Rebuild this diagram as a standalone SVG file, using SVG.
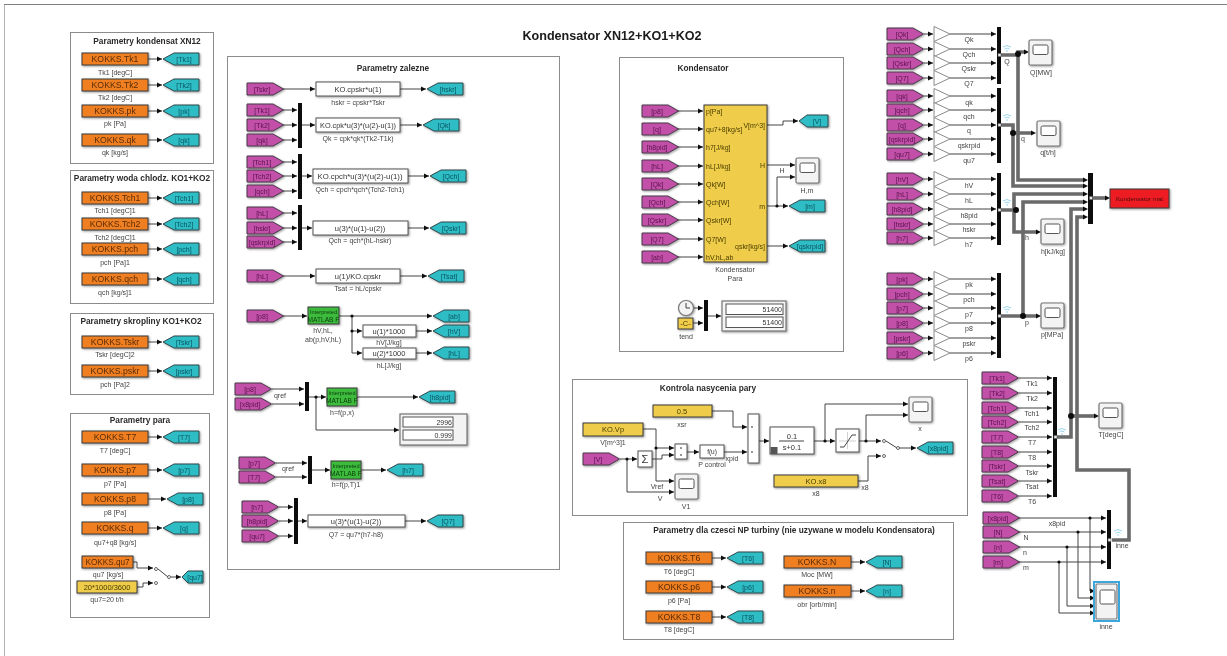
<svg xmlns="http://www.w3.org/2000/svg" xmlns:xlink="http://www.w3.org/1999/xlink" width="1227" height="656" viewBox="0 0 1227 656">
<style>
text{font-family:"Liberation Sans",Arial,sans-serif;font-size:7px;fill:#444;text-anchor:middle;dominant-baseline:central}
.title{font-size:12.6px;font-weight:bold;fill:#1a1a1a}
.pt{font-size:8.3px;font-weight:bold;fill:#2a2a2a}
.o{font-size:8.7px;fill:#5a2c05}
.f{font-size:7.5px;fill:#333}
.m{fill:#5c1450;font-size:7px}
.g{fill:#0a5560;font-size:7px}
.y{fill:#4a3d00;font-size:7.5px}
.gr{font-size:5.6px;fill:#0c3d0c}
.lft{text-anchor:start;fill:#4a3d00}
.rgt{text-anchor:end;fill:#4a3d00}
.panel{fill:#fff;stroke:#8c8c8c;stroke-width:1}
.l{fill:none;stroke:#444;stroke-width:1;marker-end:url(#a)}
.n{fill:none;stroke:#444;stroke-width:1}
.b{fill:none;stroke:#6a6a6a;stroke-width:3.6;marker-end:url(#a2)}
.bn{fill:none;stroke:#6a6a6a;stroke-width:3.6}
.d{fill:#111}
.shad{filter:drop-shadow(1px 1px .8px rgba(0,0,0,.4))}
.org{fill:#f07f22;stroke:#3a3a3a;stroke-width:1}
.yel{fill:#efcd4b;stroke:#3a3a3a;stroke-width:1}
.wh{fill:#fff;stroke:#555;stroke-width:1}
.grn{fill:#3dbb3d;stroke:#3a3a3a;stroke-width:1}
.mux{fill:#0c0c0c}
.from{fill:#c24fa8;stroke:#4a3a4a;stroke-width:1}
.goto{fill:#2fbcc5;stroke:#2f4a4d;stroke-width:1}
.gain{fill:#fff;stroke:#8a8a8a;stroke-width:1}
.sc{fill:#f3f3f3;stroke:#777;stroke-width:1.2}
.scr{fill:#fff;stroke:#555;stroke-width:1}
.c{fill:#fff;stroke:#444;stroke-width:.8}
.wifi{fill:none;stroke:#8fd0ee;stroke-width:.9}
.port{fill:#e8e8e8;stroke:#555;stroke-width:.5}
</style>
<defs>
<filter id="soft" x="0" y="0" width="100%" height="100%"><feGaussianBlur stdDeviation=".4"/></filter>
<marker id="a" markerUnits="userSpaceOnUse" markerWidth="6" markerHeight="6" refX="5" refY="3" orient="auto"><path d="M0 .4L5 3 0 5.6Z" fill="#111"/></marker>
<marker id="a2" markerUnits="userSpaceOnUse" markerWidth="6" markerHeight="6" refX="0" refY="3" orient="auto"><path d="M0 .4L5 3 0 5.6Z" fill="#111"/></marker>
<path id="from" class="from shad" d="M0-6H26L36.500 0 26 6H0Z"/>
<path id="goto" class="goto shad" d="M0 0L11-6H36V6H11Z"/>
<path id="gain" class="gain" d="M0-7.500L16 0 0 7.500Z"/>
<g id="scope" class="shad"><rect class="sc" width="23" height="25" rx="1.500"/><rect class="scr" x="4" y="5" width="15" height="9.500" rx="1.500"/></g>
<rect id="ob" class="org shad" width="66" height="12"/>
<path id="wi" class="wifi" d="M-4 0Q0-3 4 0M-2.500 2Q0 0 2.500 2M-1 4H1"/>
</defs>
<rect width="1227" height="656" fill="#fff"/>
<g id="diagram" filter="url(#soft)">
<path d="M4 656V4.500H1227" fill="none" stroke="#808080" stroke-width="1.200"/>
<text class="title" x="612" y="36">Kondensator XN12+KO1+KO2</text>

<g id="panels">
<rect class="panel" x="70.500" y="32.500" width="143" height="131"/>
<rect class="panel" x="70.500" y="170.500" width="143" height="133"/>
<rect class="panel" x="70.500" y="313.500" width="143" height="81"/>
<rect class="panel" x="70.500" y="413.500" width="139" height="204"/>
<rect class="panel" x="227.500" y="56.500" width="332" height="513"/>
<rect class="panel" x="619.500" y="57.500" width="224" height="294"/>
<rect class="panel" x="572.500" y="379.500" width="395" height="136"/>
<rect class="panel" x="623.500" y="522.500" width="330" height="117"/>
<text class="pt" x="147" y="41">Parametry kondensat XN12</text>
<text class="pt" x="142" y="178">Parametry woda chlodz. KO1+KO2</text>
<text class="pt" x="141" y="321">Parametry skropliny KO1+KO2</text>
<text class="pt" x="140" y="420">Parametry para</text>
<text class="pt" x="393" y="68">Parametry zalezne</text>
<text class="pt" x="703" y="68">Kondensator</text>
<text class="pt" x="708" y="388">Kontrola nasycenia pary</text>
<text class="pt" x="794" y="530">Parametry dla czesci NP turbiny (nie uzywane w modelu Kondensatora)</text>
</g>

<g id="connectors">
<g class="l">
<path d="M148 59H162"/><path d="M148 85H162"/><path d="M148 111H162"/><path d="M148 140H162"/><path d="M148 198H162"/><path d="M148 224H162"/><path d="M148 249H162"/><path d="M148 279H162"/><path d="M148 342H162"/><path d="M148 371H162"/><path d="M148 437H162"/><path d="M148 470H162"/><path d="M148 499H166"/><path d="M148 528H162"/>
<path d="M133 562H137V568H153"/><path d="M137 587H143V583H153"/><path d="M171 577H181"/>
<path d="M283 89H315"/><path d="M400 89H426"/><path d="M283 110H297"/><path d="M283 125H297"/><path d="M283 140H297"/><path d="M302 125H315"/><path d="M400 125H422"/><path d="M283 162H297"/><path d="M283 176H297"/><path d="M283 191H297"/><path d="M302 176H312"/><path d="M408 176H429"/><path d="M283 213H297"/><path d="M283 228H297"/><path d="M283 242H297"/><path d="M302 228H312"/><path d="M408 228H429"/><path d="M283 276H315"/><path d="M400 276H427"/><path d="M283 316H307"/><path d="M339 316H432"/><path d="M352 316V353H362"/><path d="M352 331H362"/><path d="M416 331H432"/><path d="M416 353H432"/>
<path d="M272 389H304"/><path d="M272 404H304"/><path d="M309 397H326"/><path d="M357 397H418"/><path d="M316 397V430H399"/><path d="M276 463H307"/><path d="M276 477H307"/><path d="M312 470H330"/><path d="M361 470H386"/><path d="M279 507H293"/><path d="M279 521H293"/><path d="M279 536H293"/><path d="M298 521H307"/><path d="M405 521H426"/>
<path d="M678 111H703"/><path d="M678 129H703"/><path d="M678 147H703"/><path d="M678 166H703"/><path d="M678 184H703"/><path d="M678 202H703"/><path d="M678 220H703"/><path d="M678 239H703"/><path d="M678 257H703"/><path d="M767 125H783V121H798"/><path d="M767 165H795"/><path d="M767 206H788"/><path d="M777 206V177H795"/><path d="M767 246H788"/><path d="M693 308H703"/><path d="M693 323H703"/><path d="M708 316H721"/>
<path d="M712 411H733V427H747"/><path d="M643 429H656V481H674"/><path d="M656 448H674"/><path d="M652 459H662V455H674"/><path d="M620 459H637"/><path d="M627 459V492H674"/><path d="M687 452H699"/><path d="M724 452H747"/><path d="M759 441H769"/><path d="M814 441H835"/><path d="M825 441V404H908"/><path d="M859 441H881"/><path d="M866 441V415H908"/><path d="M899 448H916"/><path d="M858 481H868V456H881"/>
<path d="M712 558H726"/><path d="M712 587H726"/><path d="M712 617H726"/><path d="M851 562H865"/><path d="M851 591H865"/>
<path d="M924 34H933"/><path d="M924 49H933"/><path d="M924 63H933"/><path d="M924 78H933"/><path d="M924 96H933"/><path d="M924 110H933"/><path d="M924 125H933"/><path d="M924 139H933"/><path d="M924 154H933"/><path d="M924 179H933"/><path d="M924 194H933"/><path d="M924 209H933"/><path d="M924 224H933"/><path d="M924 238H933"/><path d="M924 279H933"/><path d="M924 294H933"/><path d="M924 308H933"/><path d="M924 323H933"/><path d="M924 338H933"/><path d="M924 353H933"/>
<path d="M950 34H996"/><path d="M950 49H996"/><path d="M950 63H996"/><path d="M950 78H996"/><path d="M950 96H996"/><path d="M950 110H996"/><path d="M950 125H996"/><path d="M950 139H996"/><path d="M950 154H996"/><path d="M950 179H996"/><path d="M950 194H996"/><path d="M950 209H996"/><path d="M950 224H996"/><path d="M950 238H996"/><path d="M950 279H996"/><path d="M950 294H996"/><path d="M950 308H996"/><path d="M950 323H996"/><path d="M950 338H996"/><path d="M950 353H996"/>
<path d="M1019 378H1052"/><path d="M1019 393H1052"/><path d="M1019 408H1052"/><path d="M1019 422H1052"/><path d="M1019 437H1052"/><path d="M1019 452H1052"/><path d="M1019 466H1052"/><path d="M1019 481H1052"/><path d="M1019 496H1052"/>
<path d="M1019 518H1106"/><path d="M1019 532H1106"/><path d="M1019 547H1106"/><path d="M1019 562H1106"/><path d="M1090 518V591H1095"/><path d="M1078 532V598H1095"/><path d="M1067 547V606H1095"/><path d="M1059 562V613H1095"/>
</g>
<path class="n" d="M158 569L168 577"/>
<path class="n" d="M886 441L897 448"/>
<path class="bn" d="M1018 54V180H1082"/>
<path class="bn" d="M1013 133V186H1082"/>
<path class="bn" d="M1014 210V194H1082"/>
<path class="bn" d="M1023 316V202H1082"/>
<path class="bn" d="M1057 437H1071V209H1082"/>
<path class="bn" d="M1112 540H1129V470H1077V217H1082"/>
<g class="b">
<path d="M1001 55H1018V52H1024"/><path d="M1001 125H1013V133H1031"/><path d="M1001 210H1014V232H1036"/><path d="M1001 316H1036"/><path d="M1071 416H1094"/><path d="M1093 198H1105"/>
<path d="M1082 180H1083"/><path d="M1082 186H1083"/><path d="M1082 194H1083"/><path d="M1082 202H1083"/><path d="M1082 209H1083"/><path d="M1082 217H1083"/>
</g>
<g class="d"><circle cx="352" cy="316" r="1.600"/><circle cx="352" cy="331" r="1.600"/><circle cx="316" cy="397" r="1.600"/><circle cx="777" cy="206" r="1.600"/><circle cx="656" cy="448" r="1.600"/><circle cx="627" cy="459" r="1.600"/><circle cx="825" cy="441" r="1.600"/><circle cx="866" cy="441" r="1.600"/><circle cx="1090" cy="518" r="1.600"/><circle cx="1078" cy="532" r="1.600"/><circle cx="1067" cy="547" r="1.600"/><circle cx="1059" cy="562" r="1.600"/><circle cx="1018" cy="54" r="3"/><circle cx="1013" cy="133" r="3"/><circle cx="1016" cy="210" r="3"/><circle cx="1023" cy="316" r="3"/><circle cx="1071" cy="416" r="3"/></g>
<g class="c"><circle cx="156" cy="569" r="1.500"/><circle cx="156" cy="583" r="1.500"/><circle cx="169" cy="577" r="1.500"/><circle cx="884" cy="441" r="1.500"/><circle cx="884" cy="456" r="1.500"/><circle cx="898" cy="448" r="1.500"/></g>
</g>

<g id="signal-labels">
<text x="280" y="395">qref</text><text x="288" y="468">qref</text>
<text x="782" y="170">H</text>
<text x="657" y="486">Vref</text><text x="660" y="498">V</text><text x="732" y="458">xpid</text><text x="865" y="487">x8</text>
<text x="969" y="39">Qk</text><text x="969" y="54">Qch</text><text x="969" y="68">Qskr</text><text x="969" y="83">Q7</text>
<text x="969" y="102">qk</text><text x="969" y="116">qch</text><text x="969" y="130">q</text><text x="969" y="145">qskrpid</text><text x="969" y="160">qu7</text>
<text x="969" y="185">hV</text><text x="969" y="200">hL</text><text x="969" y="215">h8pid</text><text x="969" y="229">hskr</text><text x="969" y="244">h7</text>
<text x="969" y="284">pk</text><text x="969" y="299">pch</text><text x="969" y="314">p7</text><text x="969" y="328">p8</text><text x="969" y="343">pskr</text><text x="969" y="358">p6</text>
<text x="1032" y="383">Tk1</text><text x="1032" y="398">Tk2</text><text x="1032" y="413">Tch1</text><text x="1032" y="427">Tch2</text><text x="1032" y="442">T7</text><text x="1032" y="457">T8</text><text x="1032" y="472">Tskr</text><text x="1032" y="486">Tsat</text><text x="1032" y="501">T6</text>
<text x="1057" y="523">x8pid</text><text x="1026" y="537">N</text><text x="1025" y="552">n</text><text x="1026" y="567">m</text>
<text x="1007" y="61">Q</text><text x="1023" y="138">q</text><text x="1027" y="237">h</text><text x="1027" y="322">p</text><text x="1122" y="545">inne</text>
</g>
<g id="log-icons"><use href="#wi" x="1007" y="47"/><use href="#wi" x="1007" y="116"/><use href="#wi" x="1007" y="201"/><use href="#wi" x="1007" y="308"/><use href="#wi" x="1062" y="430"/><use href="#wi" x="1118" y="531"/></g>

<g id="left-blocks">
<g id="KOKKS-Tk1"><use href="#ob" x="82" y="53"/><text class="o" x="115" y="59">KOKKS.Tk1</text><text x="115" y="72">Tk1 [degC]</text></g>
<g id="goto-Tk1"><use href="#goto" x="163" y="59"/><text class="g" x="184" y="59">[Tk1]</text></g>
<g id="KOKKS-Tk2"><use href="#ob" x="82" y="79"/><text class="o" x="115" y="85">KOKKS.Tk2</text><text x="115" y="97">Tk2 [degC]</text></g>
<g id="goto-Tk2"><use href="#goto" x="163" y="85"/><text class="g" x="184" y="85">[Tk2]</text></g>
<g id="KOKKS-pk"><use href="#ob" x="82" y="105"/><text class="o" x="115" y="111">KOKKS.pk</text><text x="115" y="123">pk [Pa]</text></g>
<g id="goto-pk"><use href="#goto" x="163" y="111"/><text class="g" x="184" y="111">[pk]</text></g>
<g id="KOKKS-qk"><use href="#ob" x="82" y="134"/><text class="o" x="115" y="140">KOKKS.qk</text><text x="115" y="152">qk [kg/s]</text></g>
<g id="goto-qk"><use href="#goto" x="163" y="140"/><text class="g" x="184" y="140">[qk]</text></g>
<g id="KOKKS-Tch1"><use href="#ob" x="82" y="192"/><text class="o" x="115" y="198">KOKKS.Tch1</text><text x="115" y="210">Tch1 [degC]1</text></g>
<g id="goto-Tch1"><use href="#goto" x="163" y="198"/><text class="g" x="184" y="198">[Tch1]</text></g>
<g id="KOKKS-Tch2"><use href="#ob" x="82" y="218"/><text class="o" x="115" y="224">KOKKS.Tch2</text><text x="115" y="237">Tch2 [degC]1</text></g>
<g id="goto-Tch2"><use href="#goto" x="163" y="224"/><text class="g" x="184" y="224">[Tch2]</text></g>
<g id="KOKKS-pch"><use href="#ob" x="82" y="243"/><text class="o" x="115" y="249">KOKKS.pch</text><text x="115" y="262">pch [Pa]1</text></g>
<g id="goto-pch"><use href="#goto" x="163" y="249"/><text class="g" x="184" y="249">[pch]</text></g>
<g id="KOKKS-qch"><use href="#ob" x="82" y="273"/><text class="o" x="115" y="279">KOKKS.qch</text><text x="115" y="292">qch [kg/s]1</text></g>
<g id="goto-qch"><use href="#goto" x="163" y="279"/><text class="g" x="184" y="279">[qch]</text></g>
<g id="KOKKS-Tskr"><use href="#ob" x="82" y="336"/><text class="o" x="115" y="342">KOKKS.Tskr</text><text x="115" y="354">Tskr [degC]2</text></g>
<g id="goto-Tskr"><use href="#goto" x="163" y="342"/><text class="g" x="184" y="342">[Tskr]</text></g>
<g id="KOKKS-pskr"><use href="#ob" x="82" y="365"/><text class="o" x="115" y="371">KOKKS.pskr</text><text x="115" y="384">pch [Pa]2</text></g>
<g id="goto-pskr"><use href="#goto" x="163" y="371"/><text class="g" x="184" y="371">[pskr]</text></g>
<g id="KOKKS-T7"><use href="#ob" x="82" y="431"/><text class="o" x="115" y="437">KOKKS.T7</text><text x="115" y="450">T7 [degC]</text></g>
<g id="goto-T7"><use href="#goto" x="163" y="437"/><text class="g" x="184" y="437">[T7]</text></g>
<g id="KOKKS-p7"><use href="#ob" x="82" y="464"/><text class="o" x="115" y="470">KOKKS.p7</text><text x="115" y="483">p7 [Pa]</text></g>
<g id="goto-p7"><use href="#goto" x="163" y="470"/><text class="g" x="184" y="470">[p7]</text></g>
<g id="KOKKS-p8"><use href="#ob" x="82" y="493"/><text class="o" x="115" y="499">KOKKS.p8</text><text x="115" y="512">p8 [Pa]</text></g>
<g id="goto-p8"><use href="#goto" x="167" y="499"/><text class="g" x="188" y="499">[p8]</text></g>
<g id="KOKKS-q"><use href="#ob" x="82" y="522"/><text class="o" x="115" y="528">KOKKS.q</text><text x="115" y="542">qu7+q8 [kg/s]</text></g>
<g id="goto-q"><use href="#goto" x="163" y="528"/><text class="g" x="184" y="528">[q]</text></g>
<g id="KOKKS-qu7"><rect class="org shad" x="82" y="556" width="51" height="12"/><text class="o" style="font-size:8.200px" x="107.500" y="562">KOKKS.qu7</text><text x="108" y="574">qu7 [kg/s]</text></g>
<g id="const-qu7"><rect class="yel shad" x="77" y="581" width="60" height="12"/><text class="y" x="107" y="587">20*1000/3600</text><text x="107" y="599">qu7=20 t/h</text></g>
<g id="goto-qu7"><path class="goto shad" d="M182 577L188 571H203V583H188Z"/><text class="g" x="195" y="577">[qu7]</text></g>
</g>

<g id="zalezne-blocks">
<g id="from-Tskr"><use href="#from" x="247" y="89"/><text class="m" x="262" y="89">[Tskr]</text></g>
<g id="fcn-hskr"><rect class="wh shad" x="316" y="82" width="84" height="14"/><text class="f" x="358" y="89">KO.cpskr*u(1)</text><text x="358" y="102">hskr = cpskr*Tskr</text></g>
<g id="goto-hskr"><use href="#goto" x="427" y="89"/><text class="g" x="448" y="89">[hskr]</text></g>
<g id="from-Tk1"><use href="#from" x="247" y="110"/><text class="m" x="262" y="110">[Tk1]</text></g>
<g id="from-Tk2"><use href="#from" x="247" y="125"/><text class="m" x="262" y="125">[Tk2]</text></g>
<g id="from-qk"><use href="#from" x="247" y="140"/><text class="m" x="262" y="140">[qk]</text></g>
<rect id="mux-Qk" class="mux" x="298" y="103" width="4" height="45"/>
<g id="fcn-Qk"><rect class="wh shad" x="316" y="118" width="84" height="14"/><text class="f" x="358" y="125" textLength="76" lengthAdjust="spacingAndGlyphs">KO.cpk*u(3)*(u(2)-u(1))</text><text x="358" y="138">Qk = cpk*qk*(Tk2-T1k)</text></g>
<g id="goto-Qk"><use href="#goto" x="423" y="125"/><text class="g" x="444" y="125">[Qk]</text></g>
<g id="from-Tch1"><use href="#from" x="247" y="162"/><text class="m" x="262" y="162">[Tch1]</text></g>
<g id="from-Tch2"><use href="#from" x="247" y="176"/><text class="m" x="262" y="176">[Tch2]</text></g>
<g id="from-qch"><use href="#from" x="247" y="191"/><text class="m" x="262" y="191">[qch]</text></g>
<rect id="mux-Qch" class="mux" x="298" y="154" width="4" height="45"/>
<g id="fcn-Qch"><rect class="wh shad" x="313" y="169" width="95" height="14"/><text class="f" x="360" y="176" textLength="85" lengthAdjust="spacingAndGlyphs">KO.cpch*u(3)*(u(2)-u(1))</text><text x="360" y="189">Qch = cpch*qch*(Tch2-Tch1)</text></g>
<g id="goto-Qch"><use href="#goto" x="430" y="176"/><text class="g" x="451" y="176">[Qch]</text></g>
<g id="from-hL"><use href="#from" x="247" y="213"/><text class="m" x="262" y="213">[hL]</text></g>
<g id="from-hskr"><use href="#from" x="247" y="228"/><text class="m" x="262" y="228">[hskr]</text></g>
<g id="from-qskrpid"><use href="#from" x="247" y="242"/><text class="m" x="262" y="242">[qskrpid]</text></g>
<rect id="mux-Qskr" class="mux" x="298" y="205" width="4" height="45"/>
<g id="fcn-Qskr"><rect class="wh shad" x="313" y="221" width="95" height="14"/><text class="f" x="360" y="228">u(3)*(u(1)-u(2))</text><text x="360" y="240">Qch = qch*(hL-hskr)</text></g>
<g id="goto-Qskr"><use href="#goto" x="430" y="228"/><text class="g" x="451" y="228">[Qskr]</text></g>
<g id="from-hL2"><use href="#from" x="247" y="276"/><text class="m" x="262" y="276">[hL]</text></g>
<g id="fcn-Tsat"><rect class="wh shad" x="316" y="269" width="84" height="14"/><text class="f" x="358" y="276">u(1)/KO.cpskr</text><text x="358" y="288">Tsat = hL/cpskr</text></g>
<g id="goto-Tsat"><use href="#goto" x="428" y="276"/><text class="g" x="449" y="276">[Tsat]</text></g>
<g id="from-p8"><use href="#from" x="247" y="316"/><text class="m" x="262" y="316">[p8]</text></g>
<g id="matlab-hV"><rect class="grn shad" x="308" y="307" width="31" height="17"/><text class="gr" x="323.500" y="312">Interpreted</text><text class="gr" style="font-size:6.600px" x="323.500" y="319">MATLAB F</text><text x="323" y="330">hV,hL,</text><text x="323" y="339">ab(p,hV,hL)</text></g>
<g id="goto-ab"><use href="#goto" x="433" y="316"/><text class="g" x="454" y="316">[ab]</text></g>
<g id="fcn-hV"><rect class="wh shad" x="363" y="325" width="53" height="12"/><text class="f" x="389" y="331">u(1)*1000</text><text x="389" y="342">hV[J/kg]</text></g>
<g id="fcn-hL"><rect class="wh shad" x="363" y="348" width="53" height="11"/><text class="f" x="389" y="353.500">u(2)*1000</text><text x="389" y="365">hL[J/kg]</text></g>
<g id="goto-hV"><use href="#goto" x="433" y="331"/><text class="g" x="454" y="331">[hV]</text></g>
<g id="goto-hL"><use href="#goto" x="433" y="353"/><text class="g" x="454" y="353">[hL]</text></g>
<g id="from-p8b"><use href="#from" x="235" y="389"/><text class="m" x="250" y="389">[p8]</text></g>
<g id="from-x8pid"><use href="#from" x="235" y="404"/><text class="m" x="250" y="404">[x8pid]</text></g>
<rect id="mux-h8" class="mux" x="305" y="382" width="4" height="29"/>
<g id="matlab-h8"><rect class="grn shad" x="327" y="388" width="30" height="18"/><text class="gr" x="342" y="393">Interpreted</text><text class="gr" style="font-size:6.600px" x="342" y="400">MATLAB F</text><text x="342" y="412">h=f(p,x)</text></g>
<g id="goto-h8pid"><use href="#goto" x="419" y="397"/><text class="g" x="440" y="397">[h8pid]</text></g>
<g id="display-h8"><rect class="sc shad" x="400" y="414" width="67" height="31"/><rect class="wh" x="403" y="417" width="50" height="10"/><rect class="wh" x="403" y="430" width="50" height="10"/><text class="rgt" style="fill:#333" x="452" y="422">2996</text><text class="rgt" style="fill:#333" x="452" y="435">0.999</text></g>
<g id="from-p7"><use href="#from" x="239" y="463"/><text class="m" x="254" y="463">[p7]</text></g>
<g id="from-T7"><use href="#from" x="239" y="477"/><text class="m" x="254" y="477">[T7]</text></g>
<rect id="mux-h7" class="mux" x="308" y="456" width="4" height="28"/>
<g id="matlab-h7"><rect class="grn shad" x="331" y="461" width="30" height="18"/><text class="gr" x="346" y="466">Interpreted</text><text class="gr" style="font-size:6.600px" x="346" y="473">MATLAB F</text><text x="346" y="484">h=f(p,T)1</text></g>
<g id="goto-h7"><use href="#goto" x="387" y="470"/><text class="g" x="408" y="470">[h7]</text></g>
<g id="from-h7"><use href="#from" x="242" y="507"/><text class="m" x="257" y="507">[h7]</text></g>
<g id="from-h8pid"><use href="#from" x="242" y="521"/><text class="m" x="257" y="521">[h8pid]</text></g>
<g id="from-qu7"><use href="#from" x="242" y="536"/><text class="m" x="257" y="536">[qu7]</text></g>
<rect id="mux-Q7" class="mux" x="294" y="498" width="4" height="46"/>
<g id="fcn-Q7"><rect class="wh shad" x="308" y="515" width="97" height="12"/><text class="f" x="356" y="521">u(3)*(u(1)-u(2))</text><text x="356" y="534">Q7 = qu7*(h7-h8)</text></g>
<g id="goto-Q7"><use href="#goto" x="427" y="521"/><text class="g" x="448" y="521">[Q7]</text></g>
</g>

<g id="kondensator-blocks">
<g id="k-from-p8"><use href="#from" x="642" y="111"/><text class="m" x="657" y="111">[p8]</text></g>
<g id="k-from-q"><use href="#from" x="642" y="129"/><text class="m" x="657" y="129">[q]</text></g>
<g id="k-from-h8pid"><use href="#from" x="642" y="147"/><text class="m" x="657" y="147">[h8pid]</text></g>
<g id="k-from-hL"><use href="#from" x="642" y="166"/><text class="m" x="657" y="166">[hL]</text></g>
<g id="k-from-Qk"><use href="#from" x="642" y="184"/><text class="m" x="657" y="184">[Qk]</text></g>
<g id="k-from-Qch"><use href="#from" x="642" y="202"/><text class="m" x="657" y="202">[Qch]</text></g>
<g id="k-from-Qskr"><use href="#from" x="642" y="220"/><text class="m" x="657" y="220">[Qskr]</text></g>
<g id="k-from-Q7"><use href="#from" x="642" y="239"/><text class="m" x="657" y="239">[Q7]</text></g>
<g id="k-from-ab"><use href="#from" x="642" y="257"/><text class="m" x="657" y="257">[ab]</text></g>
<g id="kondensator">
<rect class="yel shad" x="704" y="105" width="63" height="157"/>
<text class="lft" x="706" y="111">p[Pa]</text><text class="lft" x="706" y="129">qu7+8[kg/s]</text><text class="lft" x="706" y="147">h7[J/kg]</text><text class="lft" x="706" y="166">hL[J/kg]</text><text class="lft" x="706" y="184">Qk[W]</text><text class="lft" x="706" y="202">Qch[W]</text><text class="lft" x="706" y="220">Qskr[W]</text><text class="lft" x="706" y="239">Q7[W]</text><text class="lft" x="706" y="257">hV,hL,ab</text>
<text class="rgt" x="765" y="125">V[m^3]</text><text class="rgt" x="765" y="165">H</text><text class="rgt" x="765" y="206">m</text><text class="rgt" x="765" y="246">qskr[kg/s]</text>
<text x="735" y="269">Kondensator</text><text x="735" y="278">Para</text>
</g>
<g id="goto-V"><path class="goto shad" d="M799 121L807 115H828V127H807Z"/><text class="g" x="817" y="121">[V]</text></g>
<g id="scope-Hm"><use href="#scope" x="796" y="158"/><text x="807" y="190">H,m</text></g>
<g id="goto-m"><use href="#goto" x="789" y="206"/><text class="g" x="810" y="206">[m]</text></g>
<g id="goto-qskrpid"><use href="#goto" x="789" y="246"/><text class="g" x="810" y="246">[qskrpid]</text></g>
<g id="clock"><circle class="sc shad" cx="686" cy="308" r="7.500"/><path class="n" d="M686 303V308H690"/></g>
<g id="const-tend"><rect class="yel shad" x="678" y="318" width="15" height="11"/><text class="y" x="685.500" y="323.500">-C-</text><text x="686" y="336">tend</text></g>
<rect id="mux-tend" class="mux" x="704" y="300" width="4" height="31"/>
<g id="display-tend"><rect class="sc shad" x="722" y="301" width="64" height="30"/><rect class="wh" x="726" y="304" width="57" height="10.500"/><rect class="wh" x="726" y="317" width="57" height="10.500"/><text class="rgt" style="fill:#333" x="782" y="309">51400</text><text class="rgt" style="fill:#333" x="782" y="322">51400</text></g>
</g>

<g id="kontrola-blocks">
<g id="const-xsr"><rect class="yel shad" x="653" y="405" width="59" height="12"/><text class="y" x="682" y="411">0.5</text><text x="682" y="424">xsr</text></g>
<g id="const-Vp"><rect class="yel shad" x="583" y="423" width="60" height="13"/><text class="y" x="613" y="429.500">KO.Vp</text><text x="613" y="442">V[m^3]1</text></g>
<g id="from-V"><use href="#from" x="583" y="459"/><text class="m" x="598" y="459">[V]</text></g>
<g id="sum"><rect class="wh shad" x="638" y="451" width="14" height="16"/><text class="f" style="font-size:11px" x="645" y="459">Σ</text></g>
<g id="product"><rect class="wh shad" x="675" y="444" width="12" height="15"/><circle class="d" cx="681" cy="448" r=".8"/><circle class="d" cx="681" cy="455" r=".8"/></g>
<g id="fcn-P"><rect class="wh shad" x="700" y="445" width="24" height="13"/><text class="f" style="font-size:6.500px" x="712" y="451.500">f(u)</text><text x="712" y="464">P control</text></g>
<g id="divide"><rect class="wh shad" x="748" y="414" width="11" height="49"/><circle class="d" cx="752" cy="427" r=".8"/><circle class="d" cx="752" cy="452" r=".8"/></g>
<g id="tf"><rect class="wh shad" x="770" y="427" width="44" height="27"/><text class="f" x="792" y="436">0.1</text><path class="n" d="M779 441H804"/><text class="f" x="792" y="447">s+0.1</text><rect x="770.500" y="447" width="7" height="7" fill="#555"/></g>
<g id="saturation"><rect class="wh shad" x="836" y="429" width="23" height="23"/><path d="M839 441H856M847.500 432V449" fill="none" stroke="#bbb" stroke-width=".7"/><path class="n" d="M840 447H844L852 435H856"/></g>
<g id="scope-x"><use href="#scope" x="909" y="397"/><text x="920" y="428">x</text></g>
<g id="scope-V1"><use href="#scope" x="675" y="474"/><text x="686" y="506">V1</text></g>
<g id="const-x8"><rect class="yel shad" x="774" y="475" width="84" height="12"/><text class="y" x="816" y="481">KO.x8</text><text x="816" y="493">x8</text></g>
<g id="goto-x8pid"><use href="#goto" x="917" y="448"/><text class="g" x="938" y="448">[x8pid]</text></g>
</g>

<g id="np-blocks">
<g id="KOKKS-T6"><use href="#ob" x="646" y="552"/><text class="o" x="679" y="558">KOKKS.T6</text><text x="679" y="571">T6 [degC]</text></g>
<g id="goto-T6"><use href="#goto" x="727" y="558"/><text class="g" x="748" y="558">[T6]</text></g>
<g id="KOKKS-p6"><use href="#ob" x="646" y="581"/><text class="o" x="679" y="587">KOKKS.p6</text><text x="679" y="600">p6 [Pa]</text></g>
<g id="goto-p6"><use href="#goto" x="727" y="587"/><text class="g" x="748" y="587">[p6]</text></g>
<g id="KOKKS-T8"><use href="#ob" x="646" y="611"/><text class="o" x="679" y="617">KOKKS.T8</text><text x="679" y="629">T8 [degC]</text></g>
<g id="goto-T8"><use href="#goto" x="727" y="617"/><text class="g" x="748" y="617">[T8]</text></g>
<g id="KOKKS-N"><rect class="org shad" x="784" y="556" width="67" height="12"/><text class="o" x="817" y="562">KOKKS.N</text><text x="817" y="574">Moc [MW]</text></g>
<g id="goto-N"><use href="#goto" x="866" y="562"/><text class="g" x="887" y="562">[N]</text></g>
<g id="KOKKS-n"><rect class="org shad" x="784" y="585" width="67" height="12"/><text class="o" x="817" y="591">KOKKS.n</text><text x="817" y="604">obr [orb/min]</text></g>
<g id="goto-n"><use href="#goto" x="866" y="591"/><text class="g" x="887" y="591">[n]</text></g>
</g>

<g id="right-blocks">
<g id="r-from-Qk"><use href="#from" x="887" y="34"/><text class="m" x="902" y="34">[Qk]</text><use href="#gain" x="934" y="34"/></g>
<g id="r-from-Qch"><use href="#from" x="887" y="49"/><text class="m" x="902" y="49">[Qch]</text><use href="#gain" x="934" y="49"/></g>
<g id="r-from-Qskr"><use href="#from" x="887" y="63"/><text class="m" x="902" y="63">[Qskr]</text><use href="#gain" x="934" y="63"/></g>
<g id="r-from-Q7"><use href="#from" x="887" y="78"/><text class="m" x="902" y="78">[Q7]</text><use href="#gain" x="934" y="78"/></g>
<g id="r-from-qk"><use href="#from" x="887" y="96"/><text class="m" x="902" y="96">[qk]</text><use href="#gain" x="934" y="96"/></g>
<g id="r-from-qch"><use href="#from" x="887" y="110"/><text class="m" x="902" y="110">[qch]</text><use href="#gain" x="934" y="110"/></g>
<g id="r-from-q"><use href="#from" x="887" y="125"/><text class="m" x="902" y="125">[q]</text><use href="#gain" x="934" y="125"/></g>
<g id="r-from-qskrpid"><use href="#from" x="887" y="139"/><text class="m" x="902" y="139">[qskrpid]</text><use href="#gain" x="934" y="139"/></g>
<g id="r-from-qu7"><use href="#from" x="887" y="154"/><text class="m" x="902" y="154">[qu7]</text><use href="#gain" x="934" y="154"/></g>
<g id="r-from-hV"><use href="#from" x="887" y="179"/><text class="m" x="902" y="179">[hV]</text><use href="#gain" x="934" y="179"/></g>
<g id="r-from-hL"><use href="#from" x="887" y="194"/><text class="m" x="902" y="194">[hL]</text><use href="#gain" x="934" y="194"/></g>
<g id="r-from-h8pid"><use href="#from" x="887" y="209"/><text class="m" x="902" y="209">[h8pid]</text><use href="#gain" x="934" y="209"/></g>
<g id="r-from-hskr"><use href="#from" x="887" y="224"/><text class="m" x="902" y="224">[hskr]</text><use href="#gain" x="934" y="224"/></g>
<g id="r-from-h7"><use href="#from" x="887" y="238"/><text class="m" x="902" y="238">[h7]</text><use href="#gain" x="934" y="238"/></g>
<g id="r-from-pk"><use href="#from" x="887" y="279"/><text class="m" x="902" y="279">[pk]</text><use href="#gain" x="934" y="279"/></g>
<g id="r-from-pch"><use href="#from" x="887" y="294"/><text class="m" x="902" y="294">[pch]</text><use href="#gain" x="934" y="294"/></g>
<g id="r-from-p7"><use href="#from" x="887" y="308"/><text class="m" x="902" y="308">[p7]</text><use href="#gain" x="934" y="308"/></g>
<g id="r-from-p8"><use href="#from" x="887" y="323"/><text class="m" x="902" y="323">[p8]</text><use href="#gain" x="934" y="323"/></g>
<g id="r-from-pskr"><use href="#from" x="887" y="338"/><text class="m" x="902" y="338">[pskr]</text><use href="#gain" x="934" y="338"/></g>
<g id="r-from-p6"><use href="#from" x="887" y="353"/><text class="m" x="902" y="353">[p6]</text><use href="#gain" x="934" y="353"/></g>
<rect id="mux-Q" class="mux" x="997" y="27" width="4" height="57"/><rect class="port" x="998" y="53.500" width="3" height="3"/>
<rect id="mux-q" class="mux" x="997" y="88" width="4" height="75"/><rect class="port" x="998" y="123.500" width="3" height="3"/>
<rect id="mux-h" class="mux" x="997" y="173" width="4" height="72"/><rect class="port" x="998" y="208.500" width="3" height="3"/>
<rect id="mux-p" class="mux" x="997" y="273" width="4" height="85"/><rect class="port" x="998" y="314.500" width="3" height="3"/>
<rect id="mux-main" class="mux" x="1088" y="173" width="5" height="51"/><rect class="port" x="1089.500" y="196.500" width="3" height="3"/>
<rect id="mux-T" class="mux" x="1053" y="377" width="4" height="120"/><rect class="port" x="1054" y="435.500" width="3" height="3"/>
<rect id="mux-inne" class="mux" x="1107" y="510" width="4" height="59"/><rect class="port" x="1108" y="538.500" width="3" height="3"/>
<g id="scope-Q"><use href="#scope" x="1029" y="40"/><text x="1041" y="72">Q[MW]</text></g>
<g id="scope-q"><use href="#scope" x="1037" y="121"/><text x="1048" y="152">q[t/h]</text></g>
<g id="scope-h"><use href="#scope" x="1041" y="219"/><text x="1053" y="251">h[kJ/kg]</text></g>
<g id="scope-p"><use href="#scope" x="1041" y="303"/><text x="1052" y="334">p[MPa]</text></g>
<g id="scope-T"><use href="#scope" x="1099" y="403"/><text x="1111" y="434">T[degC]</text></g>
<g id="kondensator-mat"><rect x="1110" y="189" width="59" height="19" fill="#ec1c24" stroke="#3a3a3a" class="shad"/><text style="font-size:6.200px;fill:#4a0a0a" x="1139.500" y="198.500">Kondensator mat</text></g>
<g id="t-from-Tk1"><use href="#from" x="982" y="378"/><text class="m" x="997" y="378">[Tk1]</text></g>
<g id="t-from-Tk2"><use href="#from" x="982" y="393"/><text class="m" x="997" y="393">[Tk2]</text></g>
<g id="t-from-Tch1"><use href="#from" x="982" y="408"/><text class="m" x="997" y="408">[Tch1]</text></g>
<g id="t-from-Tch2"><use href="#from" x="982" y="422"/><text class="m" x="997" y="422">[Tch2]</text></g>
<g id="t-from-T7"><use href="#from" x="982" y="437"/><text class="m" x="997" y="437">[T7]</text></g>
<g id="t-from-T8"><use href="#from" x="982" y="452"/><text class="m" x="997" y="452">[T8]</text></g>
<g id="t-from-Tskr"><use href="#from" x="982" y="466"/><text class="m" x="997" y="466">[Tskr]</text></g>
<g id="t-from-Tsat"><use href="#from" x="982" y="481"/><text class="m" x="997" y="481">[Tsat]</text></g>
<g id="t-from-T6"><use href="#from" x="982" y="496"/><text class="m" x="997" y="496">[T6]</text></g>
<g id="i-from-x8pid"><use href="#from" x="983" y="518"/><text class="m" x="998" y="518">[x8pid]</text></g>
<g id="i-from-N"><use href="#from" x="983" y="532"/><text class="m" x="998" y="532">[N]</text></g>
<g id="i-from-n"><use href="#from" x="983" y="547"/><text class="m" x="998" y="547">[n]</text></g>
<g id="i-from-m"><use href="#from" x="983" y="562"/><text class="m" x="998" y="562">[m]</text></g>
<g id="scope-inne"><rect x="1094" y="582" width="25" height="39" fill="#fff" stroke="#3aa6dc" stroke-width="2"/><rect class="sc" x="1096" y="584" width="21" height="35" rx="1"/><rect class="scr" x="1100" y="590" width="15" height="14" rx="1.500"/><text x="1106" y="626">inne</text></g>
</g>
</g>
</svg>
